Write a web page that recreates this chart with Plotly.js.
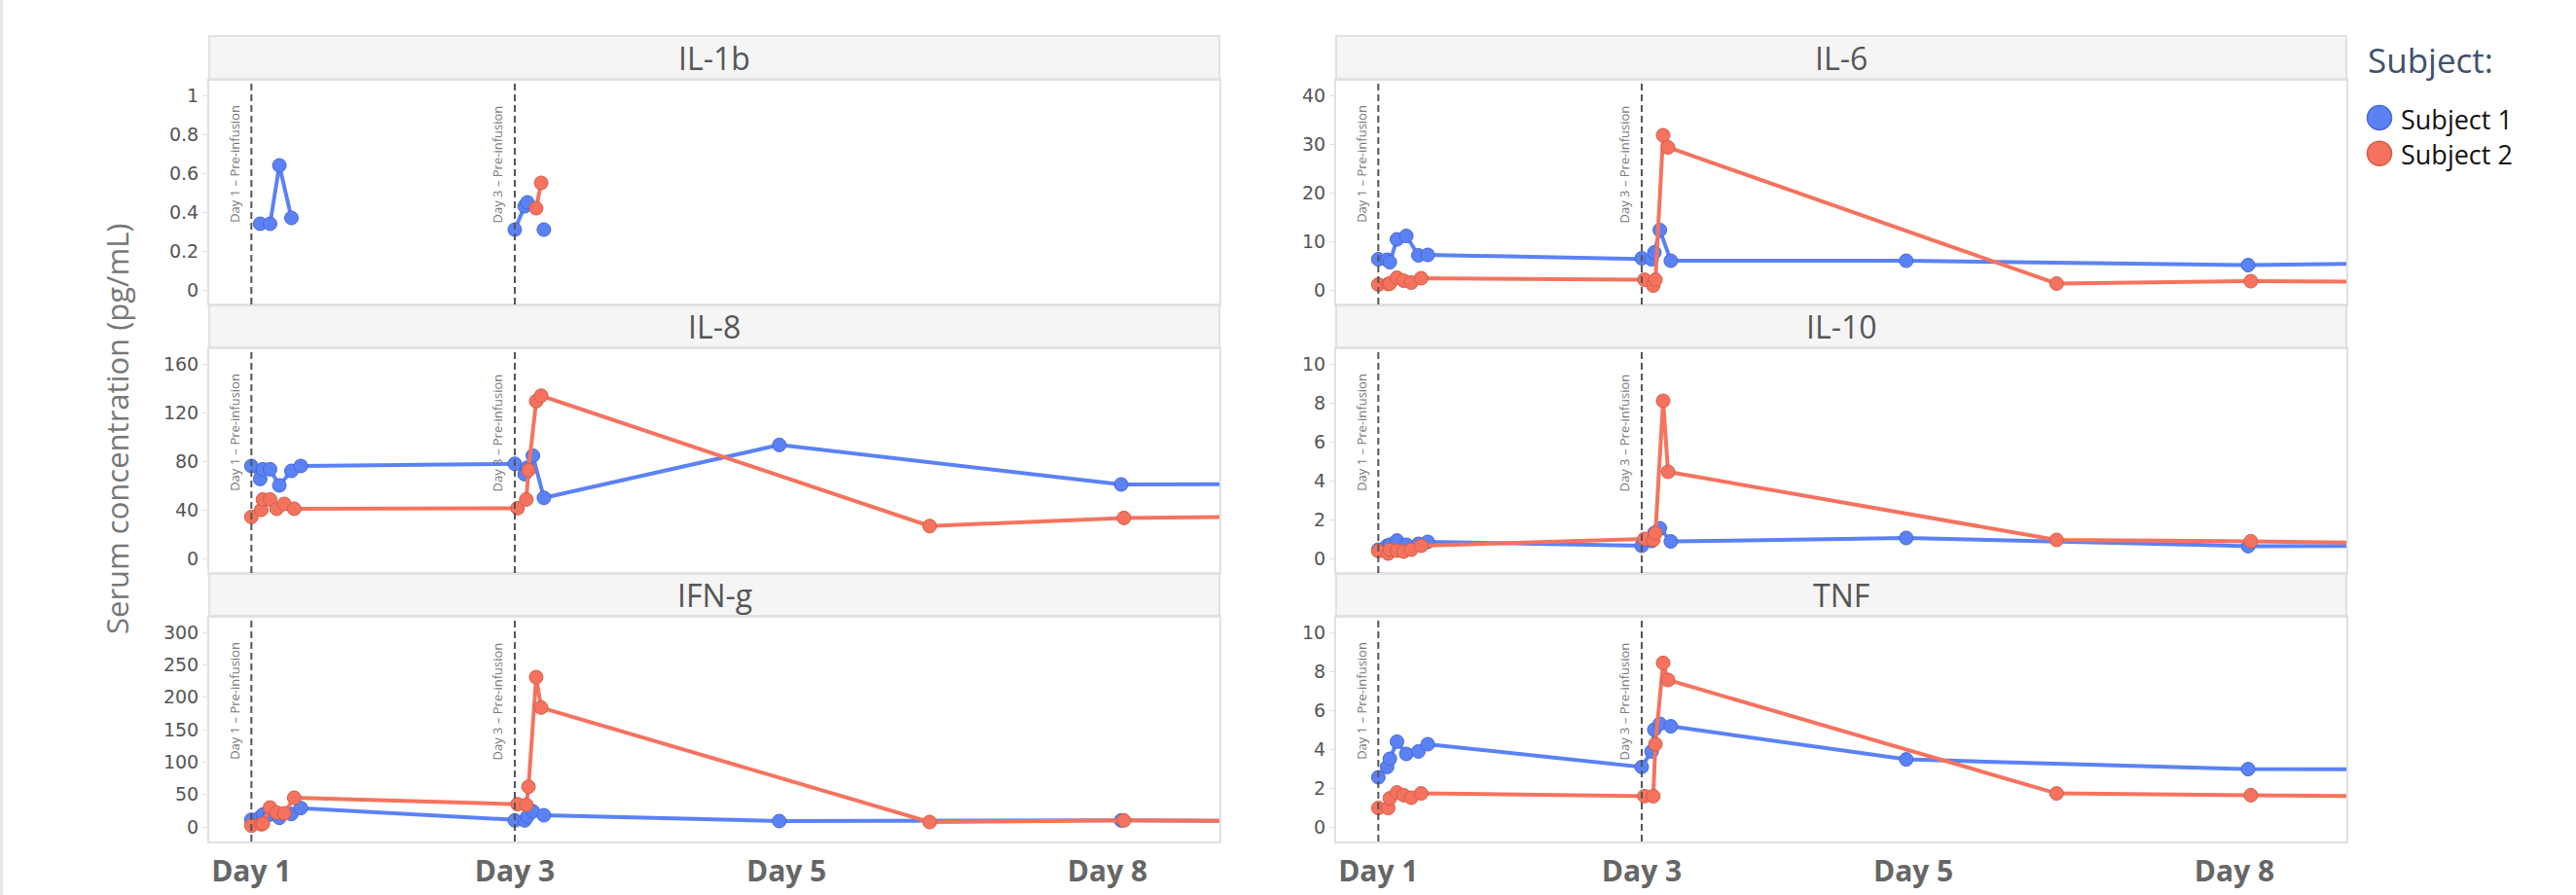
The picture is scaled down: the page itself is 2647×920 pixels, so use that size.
<!DOCTYPE html>
<html>
<head>
<meta charset="utf-8">
<script src="https://cdn.plot.ly/plotly-3.0.1.min.js"></script>
<style>html,body{margin:0;padding:0;background:#fff;}#chart{width:2647px;height:920px;}</style>
</head>
<body>
<div id="chart"></div>
<script>
// ---- data (hours after Day 1 pre-infusion sample) ----
const hoursSubject1 = [0, 1.6, 2.1, 3.4, 5.1, 7.3, 9.0, 48, 49.8, 50.3, 51.3, 53.3, 96.2, 158.5, 192];
const hoursSubject2 = [0, 1.8, 2.1, 3.4, 4.6, 6.0, 7.8, 48.5, 50.1, 50.5, 51.9, 52.8, 123.6, 159.0, 192];

const cytokines = ['IL-1b', 'IL-6', 'IL-8', 'IL-10', 'IFN-g', 'TNF'];

const il1bSubject1 = [null, 0.34, null, 0.34, 0.64, 0.37, null, 0.31, 0.43, 0.45, null, 0.31, null, null, null];
const il1bSubject2 = [null, null, null, null, null, null, null, null, null, null, 0.42, 0.55, null, null, null];

const il6Subject1 = [6.3, 6.2, 5.7, 10.4, 11.1, 7.1, 7.2, 6.5, 6.3, 7.7, 12.3, 6.0, 6.0, 5.1, 5.6];
const il6Subject2 = [1.1, 1.2, 1.3, 2.5, 1.9, 1.5, 2.4, 2.1, 0.9, 2.1, 31.8, 29.3, 1.3, 1.8, 1.65];

const il8Subject1 = [76, 65.3, 73.3, 73.3, 60, 72, 76, 77.8, 69.3, 74.6, 84.5, 49.8, 93.3, 60.8, 61.2];
const il8Subject2 = [34.1, 40, 48.5, 48.5, 40.8, 44.8, 40.8, 41.3, 48.5, 72.5, 129.3, 133.8, 26.6, 33.3, 34.8];

const il10Subject1 = [0.45, 0.65, 0.7, 0.92, 0.7, 0.75, 0.85, 0.65, 0.9, 1.3, 1.55, 0.87, 1.05, 0.63, 0.65];
const il10Subject2 = [0.38, 0.25, 0.45, 0.4, 0.35, 0.45, 0.65, 1.0, 0.95, 1.3, 8.1, 4.45, 0.95, 0.88, 0.75];

const ifngSubject1 = [11, 15, 19, 19, 14, 20, 29, 10, 10, 16, 24, 18, 9, 10, 9];
const ifngSubject2 = [2, 4, 5, 30, 22, 21, 45, 35, 34, 62, 231, 184, 7.5, 10, 8.5];

const tnfSubject1 = [2.55, 3.08, 3.5, 4.38, 3.75, 3.88, 4.25, 3.08, 3.88, 5.0, 5.3, 5.17, 3.47, 2.97, 2.95];
const tnfSubject2 = [0.97, 0.97, 1.47, 1.77, 1.63, 1.5, 1.72, 1.58, 1.58, 4.25, 8.43, 7.55, 1.72, 1.63, 1.55];

const subject1Values = [il1bSubject1, il6Subject1, il8Subject1, il10Subject1, ifngSubject1, tnfSubject1];
const subject2Values = [il1bSubject2, il6Subject2, il8Subject2, il10Subject2, ifngSubject2, tnfSubject2];

const yTickMax = [1, 40, 160, 10, 300, 10];
const yTickStep = [0.2, 10, 40, 2, 50, 2];

const tickHours = [0, 48, 97.5, 156];
const tickDays = ['Day 1', 'Day 3', 'Day 5', 'Day 8'];

const infusionHours = [0, 48];
const infusionLabels = ['Day 1 \u2013 Pre-infusion', 'Day 3 \u2013 Pre-infusion'];

const subjectNames = ['Subject 1', 'Subject 2'];
const subjectColors = ['#5b82f5', '#f5735e'];
const subjectOutlines = ['#4767d4', '#d45c48'];

// ---- layout geometry (pixels) ----
const W = 2647, H = 920;
const colX = [[215, 1253], [1373, 2411]];
const rowPlot = [[82, 313], [358, 589], [634, 865]];
const stripH = 45;
const px = v => v / W;
const py = v => 1 - v / H;

const data = [];
const layout = {
  width: W, height: H,
  margin: {l: 0, r: 0, t: 0, b: 0},
  paper_bgcolor: '#ffffff', plot_bgcolor: '#ffffff',
  showlegend: false,
  font: {family: 'Open Sans, sans-serif', color: '#555'},
  shapes: [], annotations: []
};

cytokines.forEach((name, i) => {
  const col = i % 2, row = Math.floor(i / 2);
  const sfx = i === 0 ? '' : String(i + 1);
  const xa = 'xaxis' + sfx, ya = 'yaxis' + sfx;
  const xr = 'x' + sfx, yr = 'y' + sfx;
  const top = rowPlot[row][0], bot = rowPlot[row][1];
  const M = yTickMax[i];
  const ticks = [];
  for (let v = 0; v <= M + 1e-9; v += yTickStep[i]) ticks.push(Math.round(v * 1000) / 1000);

  layout[xa] = {
    domain: [px(colX[col][0]), px(colX[col][1])],
    anchor: yr,
    range: [-7.68, 176.4],
    tickmode: 'array', tickvals: tickHours, ticktext: tickDays,
    showticklabels: row === 2,
    tickfont: {size: 30, color: '#666', weight: 'bold'},
    ticks: '', ticklabelstandoff: 3,
    showgrid: false, zeroline: false,
    showline: true, mirror: true, linecolor: '#e1e1e1', linewidth: 2
  };
  layout[ya] = {
    domain: [py(bot), py(top)],
    anchor: xr,
    range: [-0.075 * M, 1.08 * M],
    tickmode: 'array', tickvals: ticks,
    tickfont: {size: 19, color: '#555', family: 'DejaVu Sans, sans-serif'},
    ticks: 'outside', ticklen: 5, tickcolor: '#dde0ea', tickwidth: 1,
    showgrid: false, zeroline: false,
    showline: true, mirror: true, linecolor: '#e1e1e1', linewidth: 2
  };

  // strip
  layout.shapes.push({
    type: 'rect', xref: 'paper', yref: 'paper', layer: 'below',
    x0: px(colX[col][0]), x1: px(colX[col][1]), y0: py(top), y1: py(top - stripH),
    fillcolor: '#f5f5f5', line: {color: '#e1e1e1', width: 2}
  });
  layout.annotations.push({
    xref: 'paper', yref: 'paper', showarrow: false,
    x: px((colX[col][0] + colX[col][1]) / 2), y: py(top - stripH / 2),
    xanchor: 'center', yanchor: 'middle',
    text: name, font: {size: 32, color: '#555'}
  });

  // pre-infusion lines and labels
  infusionHours.forEach((h, k) => {
    layout.shapes.push({
      type: 'line', xref: xr, yref: yr + ' domain',
      x0: h, x1: h, y0: 0, y1: 1,
      line: {color: '#555', width: 2, dash: '7px,4px'}
    });
    layout.annotations.push({
      xref: xr, yref: yr + ' domain', showarrow: false,
      x: h, y: 1, xanchor: 'center', yanchor: 'top', xshift: -18, yshift: -24,
      textangle: -90, text: infusionLabels[k], font: {size: 13, color: '#7a7a7a'}
    });
  });

  const series = [[hoursSubject1, subject1Values[i]], [hoursSubject2, subject2Values[i]]];
  series.forEach((s, k) => {
    data.push({
      type: 'scatter', mode: 'lines+markers', name: subjectNames[k],
      x: s[0], y: s[1], xaxis: xr, yaxis: yr,
      connectgaps: false, cliponaxis: true,
      line: {color: subjectColors[k], width: 4},
      marker: {size: 14, color: subjectColors[k], line: {color: subjectOutlines[k], width: 1}},
      hoverinfo: 'x+y+name'
    });
  });
});

// y axis title
layout.annotations.push({
  xref: 'paper', yref: 'paper', showarrow: false,
  x: px(120), y: py(441), xanchor: 'center', yanchor: 'middle',
  textangle: -90, text: 'Serum concentration (pg/mL)',
  font: {size: 31, color: '#777'}
});

// left page edge
layout.shapes.push({type: 'rect', xref: 'paper', yref: 'paper', x0: 0, x1: px(3), y0: 0, y1: 1,
  fillcolor: '#e6e6e6', line: {width: 0}});

// manual legend
layout.annotations.push({
  xref: 'paper', yref: 'paper', showarrow: false,
  x: px(2431), y: py(62), xanchor: 'left', yanchor: 'middle',
  text: 'Subject:', font: {size: 35, color: '#3f5170'}
});
subjectNames.forEach((nm, k) => {
  const cy = 121 + k * 36.7;
  layout.shapes.push({
    type: 'circle', xref: 'paper', yref: 'paper',
    x0: px(2445 - 12.5), x1: px(2445 + 12.5), y0: py(cy + 12.5), y1: py(cy - 12.5),
    fillcolor: subjectColors[k], line: {color: subjectOutlines[k], width: 1.5}
  });
  layout.annotations.push({
    xref: 'paper', yref: 'paper', showarrow: false,
    x: px(2465), y: py(cy + 1), xanchor: 'left', yanchor: 'middle',
    text: nm, font: {size: 27, color: '#111'}
  });
});

Plotly.newPlot('chart', data, layout, {displayModeBar: false, staticPlot: true});
</script>
</body>
</html>
